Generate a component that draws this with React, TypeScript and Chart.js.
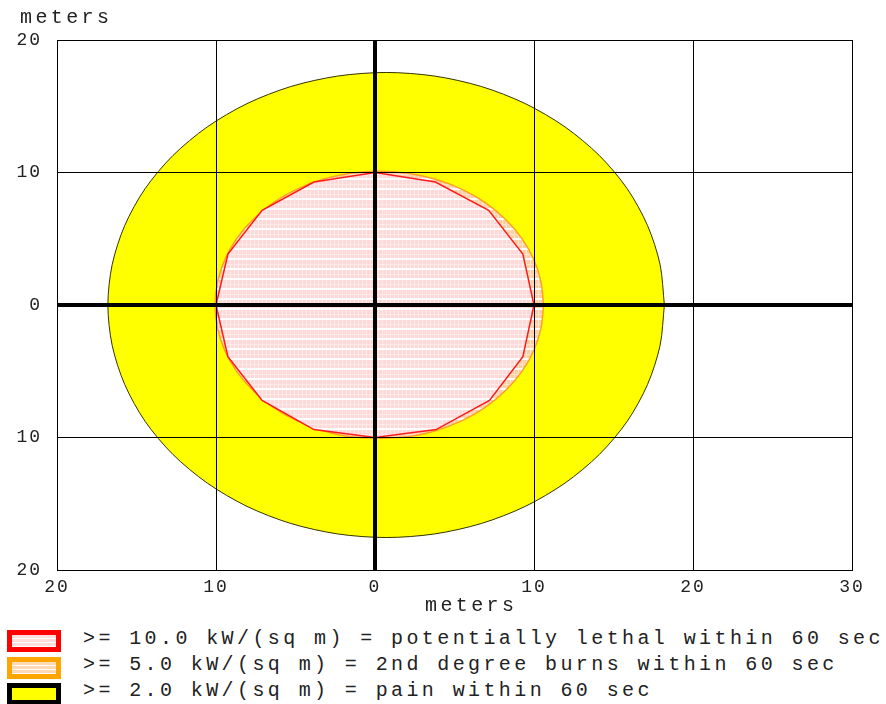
import React, { useEffect, useRef } from "react";
import { Chart, registerables } from "chart.js";

Chart.register(...registerables);

// ---- data ----
const xTickValues = [-20, -10, 0, 10, 20, 30];
const yTickValues = [-20, -10, 0, 10, 20];

// yellow zone (>= 2.0 kW/sq m)
const painX = [18.2, 17.93, 17.14, 15.86, 14.11, 11.95, 9.45, 6.69, 3.74, 0.7, -2.34, -5.29, -8.05, -10.55, -12.71, -14.46, -15.74, -16.53, -16.8, -16.53, -15.74, -14.46, -12.71, -10.55, -8.05, -5.29, -2.34, 0.7, 3.74, 6.69, 9.45, 11.95, 14.11, 15.86, 17.14, 17.93, 18.2];
const painY = [0, 3.05, 6.0, 8.78, 11.28, 13.44, 15.2, 16.49, 17.28, 17.55, 17.28, 16.49, 15.2, 13.44, 11.28, 8.78, 6.0, 3.05, 0, -3.05, -6.0, -8.78, -11.28, -13.44, -15.2, -16.49, -17.28, -17.55, -17.28, -16.49, -15.2, -13.44, -11.28, -8.78, -6.0, -3.05, 0];

// orange zone (>= 5.0 kW/sq m)
const burnX = [10.6, 10.44, 9.98, 9.22, 8.18, 6.91, 5.44, 3.8, 2.06, 0.27, -1.52, -3.26, -4.9, -6.37, -7.64, -8.68, -9.44, -9.9, -10.06, -9.9, -9.44, -8.68, -7.64, -6.37, -4.9, -3.26, -1.52, 0.27, 2.06, 3.8, 5.44, 6.91, 8.18, 9.22, 9.98, 10.44, 10.6];
const burnY = [0, 1.75, 3.45, 5.05, 6.49, 7.74, 8.75, 9.49, 9.95, 10.1, 9.95, 9.49, 8.75, 7.74, 6.49, 5.05, 3.45, 1.75, 0, -1.75, -3.45, -5.05, -6.49, -7.74, -8.75, -9.49, -9.95, -10.05, -9.95, -9.49, -8.75, -7.74, -6.49, -5.05, -3.45, -1.75, 0];

// red zone (>= 10.0 kW/sq m)
const lethalX = [-10, -9.25, -7.1, -3.84, 0, 3.8, 7.15, 9.3, 10, 9.3, 7.2, 3.84, 0, -3.84, -7.1, -9.25, -10];
const lethalY = [0, 3.85, 7.15, 9.28, 10, 9.28, 7.15, 3.85, 0, -3.9, -7.2, -9.4, -10, -9.4, -7.2, -3.9, 0];

const legendLabels = [
  ">= 10.0 kW/(sq m) = potentially lethal within 60 sec",
  ">= 5.0 kW/(sq m) = 2nd degree burns within 60 sec",
  ">= 2.0 kW/(sq m) = pain within 60 sec",
];
const axisTitle = "meters";

const toPoints = (xs: number[], ys: number[]) => xs.map((x, i) => ({ x, y: ys[i] }));

function makePattern(bg: string, col: string): CanvasPattern | string {
  const c = document.createElement("canvas");
  c.width = 4;
  c.height = 10;
  const g = c.getContext("2d");
  if (!g) return bg;
  g.fillStyle = bg;
  g.fillRect(0, 0, 4, 10);
  g.fillStyle = col;
  g.fillRect(2, 0, 1, 10);
  g.fillRect(0, 4, 4, 1);
  g.fillStyle = "#ffffff";
  g.fillRect(0, 8, 4, 2);
  const p = g.createPattern(c, "repeat");
  return p || bg;
}

const FONT = "'Liberation Mono', 'DejaVu Sans Mono', monospace";
const TEXT_COLOR = "#222";

const spacingPlugin = {
  id: "letterSpacing",
  beforeDraw(chart: any) {
    chart.ctx.letterSpacing = "2px";
  },
  afterDraw(chart: any) {
    chart.ctx.letterSpacing = "0px";
  },
};

export default function App() {
  const canvasRef = useRef<HTMLCanvasElement | null>(null);

  useEffect(() => {
    if (!canvasRef.current) return;
    const redFill = makePattern("#ffd8d8", "#ffeaea");
    const orangeFill = makePattern("#ffcfa4", "#ffe4cc");
    const lineWidthFn = (ctx: any) => (ctx.tick && ctx.tick.value === 0 ? 4 : 1);

    const chart = new Chart(canvasRef.current, {
      type: "scatter",
      data: {
        datasets: [
          {
            data: toPoints(lethalX, lethalY),
            showLine: true,
            fill: "shape",
            backgroundColor: redFill as any,
            borderColor: "#ff1a1a",
            borderWidth: 1.5,
            pointRadius: 0,
            tension: 0,
          },
          {
            data: toPoints(burnX, burnY),
            showLine: true,
            fill: "shape",
            backgroundColor: orangeFill as any,
            borderColor: "#ffa020",
            borderWidth: 1.5,
            pointRadius: 0,
            tension: 0.3,
          },
          {
            data: toPoints(painX, painY),
            showLine: true,
            fill: "shape",
            backgroundColor: "#ffff00",
            borderColor: "#333300",
            borderWidth: 1,
            pointRadius: 0,
            tension: 0.3,
          },
        ],
      },
      options: {
        responsive: false,
        animation: false,
        layout: { padding: { left: 0, top: 40, right: 34, bottom: 0 } },
        plugins: { legend: { display: false }, tooltip: { enabled: false } },
        scales: {
          x: {
            type: "linear",
            min: -20,
            max: 30,
            afterBuildTicks: (scale: any) => {
              scale.ticks = xTickValues.map((v) => ({ value: v }));
            },
            afterFit: (scale: any) => {
              scale.height = 30;
            },
            ticks: {
              padding: 6,
              color: TEXT_COLOR,
              font: { family: FONT, size: 18 },
              maxRotation: 0,
              callback: (v: any) => String(Math.abs(Number(v))),
            },
            grid: { color: "#000", lineWidth: lineWidthFn, drawTicks: false, z: 1 },
            border: { display: true, color: "#000", width: 1, z: 1 },
          },
          y: {
            type: "linear",
            min: -20,
            max: 20,
            afterBuildTicks: (scale: any) => {
              scale.ticks = yTickValues.map((v) => ({ value: v }));
            },
            afterFit: (scale: any) => {
              scale.width = 57;
            },
            ticks: {
              padding: 15,
              color: TEXT_COLOR,
              font: { family: FONT, size: 18 },
              callback: (v: any) => String(Math.abs(Number(v))),
            },
            grid: { color: "#000", lineWidth: lineWidthFn, drawTicks: false, z: 1 },
            border: { display: true, color: "#000", width: 1, z: 1 },
          },
        },
      },
      plugins: [spacingPlugin as any],
    });
    return () => chart.destroy();
  }, []);

  const textStyle: React.CSSProperties = {
    position: "absolute",
    fontFamily: FONT,
    fontSize: 20,
    letterSpacing: "3.4px",
    lineHeight: "26px",
    color: TEXT_COLOR,
    whiteSpace: "nowrap",
  };

  const swatchBase: React.CSSProperties = {
    position: "absolute",
    left: 7,
    width: 54,
    height: 22,
    boxSizing: "border-box",
    borderWidth: 5,
    borderStyle: "solid",
  };

  const stripes = (bg: string) =>
    `repeating-linear-gradient(180deg, ${bg} 0px, ${bg} 3px, #ffffff 3px, #ffffff 4px)`;

  const swatches = [
    { top: 630, border: "#ff0000", bg: stripes("#ffdede") },
    { top: 657, border: "#ffa500", bg: stripes("#ffd8b4") },
    { top: 683, border: "#000000", bg: "#ffff00" },
  ];
  const rowCenters = [639, 665, 691];

  return (
    <div style={{ position: "absolute", left: 0, top: 0, width: 886, height: 704, background: "#fff", overflow: "hidden" }}>
      <canvas ref={canvasRef} width={886} height={600} style={{ position: "absolute", left: 0, top: 0 }} />
      <div style={{ ...textStyle, left: 20, top: 5 }}>{axisTitle}</div>
      <div style={{ ...textStyle, left: 425, top: 593 }}>{axisTitle}</div>
      {swatches.map((s, i) => (
        <div key={"sw" + i} style={{ ...swatchBase, top: s.top, borderColor: s.border, background: s.bg }} />
      ))}
      {legendLabels.map((t, i) => (
        <div key={"lg" + i} style={{ ...textStyle, left: 83, top: rowCenters[i] - 13 }}>
          {t}
        </div>
      ))}
    </div>
  );
}
